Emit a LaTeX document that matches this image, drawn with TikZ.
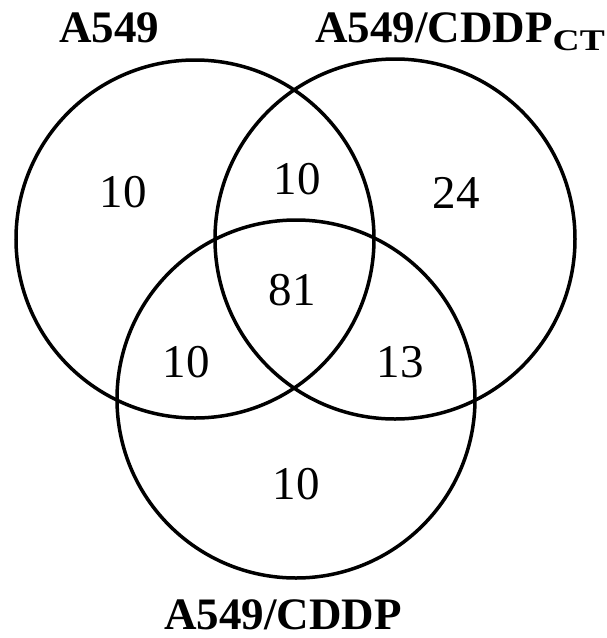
\documentclass[tikz,border=0pt]{standalone}
\usepackage{fontspec}
\setmainfont{Liberation Serif}
\begin{document}
\begin{tikzpicture}[x=1pt,y=-1pt,
  ring/.style={draw=black,line width=3.5pt},
  num/.style={inner sep=0pt,font=\fontsize{47}{47}\selectfont},
  title/.style={inner sep=0pt,font=\fontsize{45}{45}\selectfont\bfseries}]
\useasboundingbox (0,0) rectangle (606,638);
\draw[ring] (195,239) circle[radius=179] coordinate (cl);
\draw[ring] (395,239) circle[radius=180] coordinate (cr);
\draw[ring] (296,399) circle[radius=179] coordinate (cb);
\node[num] (n1) at (123,192) {10};
\node[num] (n2) at (297,179) {10};
\node[num] (n3) at (456,193) {24};
\node[num] (n4) at (292,290) {81};
\node[num] (n5) at (186,362) {10};
\node[num] (n6) at (400,362) {13};
\node[num] (n7) at (296,484) {10};
\node[title,anchor=base west] (t1) at (59,42) {A549};
\node[title,anchor=base west] (t2) at (315,42) {A549/CDDP\raisebox{-8pt}{\scalebox{1.25}[1]{\fontsize{30}{30}\selectfont CT}}};
\node[title,anchor=base west] (t3) at (164,629) {A549/CDDP};
\end{tikzpicture}
\end{document}
